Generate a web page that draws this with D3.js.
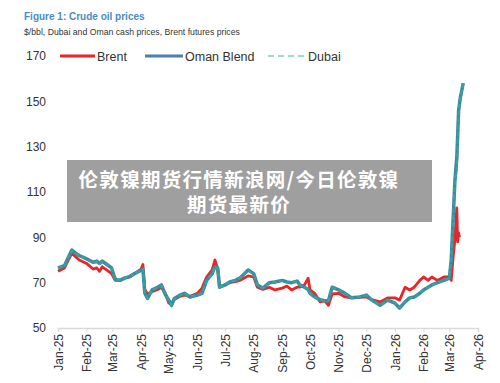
<!DOCTYPE html>
<html>
<head>
<meta charset="utf-8">
<script src="https://cdn.jsdelivr.net/npm/d3@7/dist/d3.min.js"></script>
<style>
	body { margin: 0; background: #fff; }
	svg { display: block; font-family: "Liberation Sans", Arial, sans-serif; }
</style>
</head>
<body>
<svg id="chart" width="500" height="383"></svg>
<script>
'use strict';

// dates shared by all three series (null = no value that day)
var dates = [
	'2025-01-01', '2025-01-08', '2025-01-16', '2025-01-20', '2025-01-24', '2025-02-01', '2025-02-08',
	'2025-02-12', '2025-02-15', '2025-02-18', '2025-02-23', '2025-02-28', '2025-03-04', '2025-03-09',
	'2025-03-14', '2025-03-20', '2025-03-25', '2025-04-01', '2025-04-03', '2025-04-05', '2025-04-08',
	'2025-04-13', '2025-04-19', '2025-04-23', '2025-04-27', '2025-05-01', '2025-05-04', '2025-05-07',
	'2025-05-13', '2025-05-18', '2025-05-24', '2025-06-01', '2025-06-06', '2025-06-11', '2025-06-17',
	'2025-06-20', '2025-06-23', '2025-06-25', '2025-07-01', '2025-07-06', '2025-07-12', '2025-07-17',
	'2025-07-26', '2025-08-01', '2025-08-05', '2025-08-11', '2025-08-18', '2025-08-24', '2025-09-01',
	'2025-09-06', '2025-09-11', '2025-09-17', '2025-09-20', '2025-09-25', '2025-09-29', '2025-10-01',
	'2025-10-06', '2025-10-12', '2025-10-17', '2025-10-21', '2025-10-25', '2025-11-01', '2025-11-08',
	'2025-11-15', '2025-11-24', '2025-12-01', '2025-12-07', '2025-12-16', '2025-12-24', '2026-01-01',
	'2026-01-06', '2026-01-12', '2026-01-17', '2026-01-22', '2026-01-28', '2026-02-01', '2026-02-06',
	'2026-02-10', '2026-02-16', '2026-02-23', '2026-03-01', '2026-03-03', '2026-03-05', '2026-03-07',
	'2026-03-09', '2026-03-10', '2026-03-11', '2026-03-12', '2026-03-13', '2026-03-15', '2026-03-16'
];

var brent = [
	75, 76.5, 83, 81.5, 80, 78.5, 76,
	76.5, 75, 77, 75.5, 74, 71, 71,
	72, 72.5, 74, 76, 78, 67, 65,
	66, 67, 68, 65.5, 61, 61, 62.5,
	64, 64.5, 64, 65.3, 67.6, 72.5, 75.6,
	80, 76, 68, 69, 70, 70.5, 71,
	73, 72.5, 68, 67, 68, 66.8, 67.6,
	68.5, 66.8, 68, 68, 69, 72, 66.8,
	65.3, 61.5, 62, 60, 65, 65.3, 63.7,
	63.3, 63.5, 63.7, 62.5, 61.5, 63.3, 63.3,
	62.3, 68, 66.8, 68, 71, 72.5, 71,
	72.5, 71, 72.5, 72.5, 71, 81, 89,
	103, 88, 92, 90, null, null, null
];

var oman = [
	76.5, 77.5, 84.4, 83, 82, 80.5, 79,
	79.5, 78.5, 79.5, 78, 76.5, 71.5, 71,
	72, 72.8, 74, 75.5, 76, 65.5, 63,
	66.8, 68, 69, 65, 62.3, 60, 63,
	64.5, 65.3, 63.7, 64.5, 65.3, 71, 74,
	77, 76.5, 68, 69, 70.3, 71, 72,
	75.6, 74, 69, 67.6, 70, 70.3, 71,
	70.3, 70, 70.7, 69, 68, 67, 65.3,
	63.7, 62.5, 62, 62, 68, 66.8, 65.3,
	63.3, 63.7, 64.5, 62.3, 60, 62.3, 61,
	58.8, 61.5, 63.3, 63.7, 65.3, 66.8, 68,
	69, 70, 71, 72, 80, 97.6, 115,
	125, 135, 146, 149, 152, 156, 158
];

var dubai = [
	76.3, 77.3, 84.2, 82.8, 81.8, 80.3, 78.8,
	79.3, 78.3, 79.3, 77.8, 76.3, 71.3, 71.2,
	72.1, 72.6, 74.2, 75.3, 76, 65.3, 63.2,
	66.6, 68, 68.8, 65.2, 62.1, 60.2, 62.8,
	64.3, 65.1, 63.9, 64.5, 65.3, 71, 74,
	77, 76.5, 68, 69, 70.3, 71, 72,
	75.4, 73.8, 69, 67.6, 70, 70.1, 71,
	70.3, 70, 70.5, 69, 68, 67, 65.3,
	63.7, 62.5, 62, 62, 67.8, 66.6, 65.3,
	63.3, 63.7, 64.5, 62.3, 60, 62.3, 61,
	59, 61.5, 63.3, 63.7, 65.3, 66.8, 68,
	69, 70, 71, 72, 80, 98, 116,
	119, 136, 146, 149, 152, 156, 158
];

var yTicks = [50, 70, 90, 110, 130, 150, 170];
var monthTicks = d3.timeMonths(new Date(2025, 0, 1), new Date(2026, 3, 2));
var bannerLines = ['伦敦镍期货行情新浪网/今日伦敦镍', '期货最新价'];

var svg = d3.select('#chart');
var parse = d3.timeParse('%Y-%m-%d');

var x = d3.scaleTime()
	.domain([new Date(2025, 0, 1), new Date(2026, 3, 1)])
	.range([58, 478]);
var y = d3.scaleLinear()
	.domain([50, 170])
	.range([328, 56]);

// titles
svg.append('text')
	.attr('x', 24).attr('y', 20)
	.attr('fill', '#4b8bc2')
	.attr('font-weight', 'bold')
	.attr('font-size', 10)
	.text('Figure 1: Crude oil prices');
svg.append('text')
	.attr('x', 24).attr('y', 35)
	.attr('fill', '#333')
	.attr('font-size', 8.7)
	.text('$/bbl, Dubai and Oman cash prices, Brent futures prices');

// y axis: labels only
svg.append('g')
	.attr('transform', 'translate(46,0)')
	.call(d3.axisLeft(y).tickValues(yTicks).tickSize(0).tickPadding(0))
	.call(function (g) {
		g.select('.domain').remove();
		g.selectAll('text').attr('font-size', 12).attr('fill', '#333')
			.attr('font-family', '"Liberation Sans", Arial, sans-serif');
	});

// x axis
svg.append('g')
	.attr('transform', 'translate(0,328)')
	.call(d3.axisBottom(x).tickValues(monthTicks).tickSize(4).tickFormat(d3.timeFormat('%b-%y')))
	.call(function (g) {
		g.select('.domain').attr('stroke', '#d9d9d9').attr('stroke-width', 1.5);
		g.selectAll('line').attr('stroke', '#d9d9d9');
		g.selectAll('text')
			.attr('font-size', 12)
			.attr('fill', '#333')
			.attr('font-family', '"Liberation Sans", Arial, sans-serif')
			.attr('text-anchor', 'end')
			.attr('transform', 'rotate(-90)')
			.attr('dy', '0.35em')
			.attr('x', -6)
			.attr('y', 0);
	});

// lines
function series(values) {
	return dates.map(function (d, i) {
		return { date : parse(d), value : values[i] };
	});
}
var line = d3.line()
	.defined(function (d) { return d.value !== null; })
	.x(function (d) { return x(d.date); })
	.y(function (d) { return y(d.value); });

var plot = svg.append('g').attr('fill', 'none').attr('stroke-linejoin', 'round');
plot.append('path')
	.attr('d', line(series(brent)))
	.attr('stroke', '#e8262a')
	.attr('stroke-width', 2.8);
plot.append('path')
	.attr('d', line(series(oman)))
	.attr('stroke', '#3f86a6')
	.attr('stroke-width', 3.5);
plot.append('path')
	.attr('d', line(series(dubai)))
	.attr('stroke', '#36a598')
	.attr('stroke-width', 2.2)
	.attr('stroke-dasharray', '5,2');

// legend
var legend = [
	{ name : 'Brent', x1 : 60, x2 : 95, color : '#e8262a', dash : null, w : 3 },
	{ name : 'Oman Blend', x1 : 145, x2 : 183, color : '#4a7fb0', dash : null, w : 3 },
	{ name : 'Dubai', x1 : 268, x2 : 306, color : '#7fcfb5', dash : '6,4', w : 1.5 }
];
var lg = svg.append('g');
legend.forEach(function (l) {
	lg.append('line')
		.attr('x1', l.x1).attr('x2', l.x2)
		.attr('y1', 56).attr('y2', 56)
		.attr('stroke', l.color)
		.attr('stroke-width', l.w)
		.attr('stroke-dasharray', l.dash);
	lg.append('text')
		.attr('x', l.x2 + 2).attr('y', 60.5)
		.attr('font-size', 12.5)
		.attr('fill', '#333')
		.text(l.name);
});

// overlay banner
var banner = svg.append('g');
banner.append('rect')
	.attr('x', 67).attr('y', 160)
	.attr('width', 365).attr('height', 62)
	.attr('fill', '#9f9f9f');
banner.selectAll('text')
	.data(bannerLines)
	.enter()
	.append('text')
	.attr('x', 239)
	.attr('y', function (d, i) { return 187 + i * 25; })
	.attr('text-anchor', 'middle')
	.attr('fill', '#fff')
	.attr('font-weight', 'bold')
	.attr('font-size', 19.5)
	.attr('letter-spacing', 1.3)
	.attr('font-family', '"Noto Sans CJK SC", sans-serif')
	.text(function (d) { return d; });
</script>
</body>
</html>
